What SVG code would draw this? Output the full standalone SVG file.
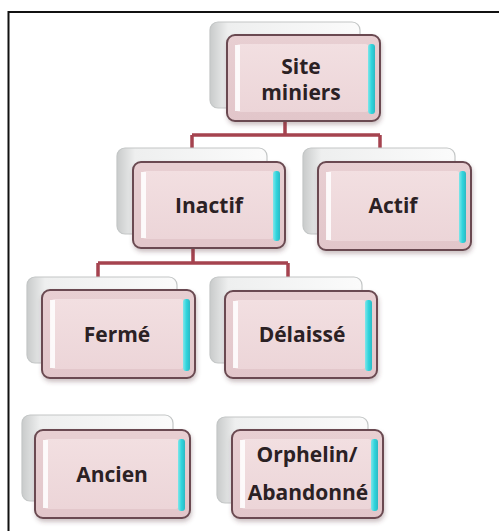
<svg xmlns="http://www.w3.org/2000/svg" width="499" height="531" viewBox="0 0 499 531">
<defs>
<linearGradient id="gBack" x1="0" y1="0" x2="1" y2="0">
<stop offset="0" stop-color="#c9cbcb"/>
<stop offset="0.12" stop-color="#eeefef"/>
<stop offset="1" stop-color="#fbfbfb"/>
</linearGradient>
<linearGradient id="gFront" x1="0" y1="0" x2="0" y2="1">
<stop offset="0" stop-color="#e8cfd2"/>
<stop offset="1" stop-color="#e2c6ca"/>
</linearGradient>
<linearGradient id="gInner" x1="0" y1="0" x2="0" y2="1">
<stop offset="0" stop-color="#f2dfe1"/>
<stop offset="1" stop-color="#ecd5d8"/>
</linearGradient>
<linearGradient id="gCyan" x1="0" y1="0" x2="1" y2="0">
<stop offset="0" stop-color="#7fe6ea"/>
<stop offset="0.5" stop-color="#31d4dc"/>
<stop offset="1" stop-color="#2bb9c4"/>
</linearGradient>
<filter id="sh" x="-10%" y="-10%" width="125%" height="130%">
<feDropShadow dx="1" dy="3" stdDeviation="2.2" flood-color="#5a3a40" flood-opacity="0.3"/>
</filter>
</defs>
<style>
.back{fill:url(#gBack);stroke:#c3c6c6;stroke-width:1.2}
.front{fill:url(#gFront);stroke:#6a4a51;stroke-width:2;filter:url(#sh)}
.inner{fill:url(#gInner)}
.hl{fill:#ffffff;opacity:0.85}
.cy{fill:url(#gCyan)}
.lbl{font-family:"Open Sans","Liberation Sans",sans-serif;font-weight:bold;font-size:21px;fill:#2b2124;text-anchor:middle}
.conn{fill:none;stroke:#a5434f;stroke-width:3.5}
.frame{fill:none;stroke:#111;stroke-width:2}
</style>
<rect x="0" y="0" width="499" height="531" fill="#ffffff"/>
<path class="frame" d="M8.5 531 V12 H499"/>
<g id="connectors">
<path class="conn" d="M285 121 V135 M192 135 H380 M192 135 V149 M380 135 V149"/>
<path class="conn" d="M193 248 V263 M98 263 H288 M98 263 V278 M288 263 V278"/>
</g>
<g id="site-miniers" transform="translate(227,35)">
<rect class="back" x="-17" y="-13" width="150" height="86" rx="8"/>
<rect class="front" x="0" y="0" width="153" height="86" rx="8"/>
<rect class="inner" x="9" y="9" width="133" height="68" rx="4"/>
<rect class="hl" x="8" y="10" width="5" height="66"/>
<rect class="cy" x="141" y="9" width="7" height="70" rx="3"/>
<text class="lbl" x="74" y="39">Site</text>
<text class="lbl" x="74" y="65">miniers</text>
</g>
<g id="inactif" transform="translate(133,162)">
<rect class="back" x="-16" y="-14" width="150" height="86" rx="8"/>
<rect class="front" x="0" y="0" width="152" height="86" rx="8"/>
<rect class="inner" x="9" y="9" width="132" height="68" rx="4"/>
<rect class="hl" x="8" y="10" width="5" height="66"/>
<rect class="cy" x="140" y="9" width="7" height="70" rx="3"/>
<text class="lbl" x="76" y="51">Inactif</text>
</g>
<g id="actif" transform="translate(318,162)">
<rect class="back" x="-15" y="-14" width="152" height="86" rx="8"/>
<rect class="front" x="0" y="0" width="153" height="88" rx="8"/>
<rect class="inner" x="9" y="9" width="133" height="70" rx="4"/>
<rect class="hl" x="8" y="10" width="5" height="68"/>
<rect class="cy" x="141" y="9" width="7" height="72" rx="3"/>
<text class="lbl" x="75" y="51">Actif</text>
</g>
<g id="ferme" transform="translate(42,290)">
<rect class="back" x="-15" y="-13" width="150" height="86" rx="8"/>
<rect class="front" x="0" y="0" width="153" height="88" rx="8"/>
<rect class="inner" x="9" y="9" width="133" height="70" rx="4"/>
<rect class="hl" x="8" y="10" width="5" height="68"/>
<rect class="cy" x="141" y="9" width="7" height="72" rx="3"/>
<text class="lbl" x="75" y="52">Fermé</text>
</g>
<g id="delaisse" transform="translate(225,291)">
<rect class="back" x="-15" y="-14" width="152" height="86" rx="8"/>
<rect class="front" x="0" y="0" width="152" height="87" rx="8"/>
<rect class="inner" x="9" y="9" width="132" height="69" rx="4"/>
<rect class="hl" x="8" y="10" width="5" height="67"/>
<rect class="cy" x="140" y="9" width="7" height="71" rx="3"/>
<text class="lbl" x="77" y="51">Délaissé</text>
</g>
<g id="ancien" transform="translate(35,430)">
<rect class="back" x="-13" y="-15" width="151" height="86" rx="8"/>
<rect class="front" x="0" y="0" width="155" height="88" rx="8"/>
<rect class="inner" x="9" y="9" width="135" height="70" rx="4"/>
<rect class="hl" x="8" y="10" width="5" height="68"/>
<rect class="cy" x="143" y="9" width="7" height="72" rx="3"/>
<text class="lbl" x="77" y="52">Ancien</text>
</g>
<g id="orphelin-abandonne" transform="translate(232,430)">
<rect class="back" x="-15" y="-13" width="151" height="86" rx="8"/>
<rect class="front" x="0" y="0" width="151" height="88" rx="8"/>
<rect class="inner" x="9" y="9" width="131" height="70" rx="4"/>
<rect class="hl" x="8" y="10" width="5" height="68"/>
<rect class="cy" x="139" y="9" width="7" height="72" rx="3"/>
<text class="lbl" x="75" y="32">Orphelin/</text>
<text class="lbl" x="76" y="70">Abandonné</text>
</g>
</svg>
